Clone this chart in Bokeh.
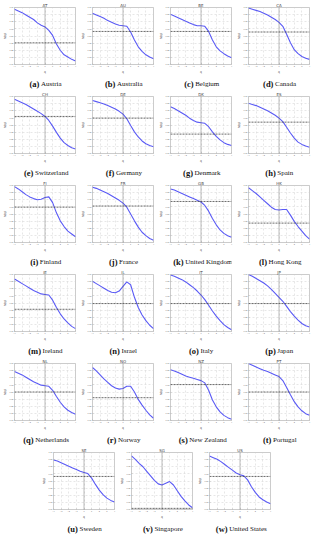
from bokeh.plotting import figure
from bokeh.layouts import row, column, Spacer
from bokeh.models import Span, Range1d, FixedTicker, PrintfTickFormatter
from bokeh.core.properties import value
from bokeh.embed import file_html
from bokeh.resources import INLINE

# q values at which h(q) was read
q = [-4.0, -3.5, -3.0, -2.5, -2.0, -1.5, -1.0, -0.5, 0.0,
     0.5, 1.0, 1.5, 2.0, 2.5, 3.0, 3.5, 4.0]

codes = ["AT", "AU", "BE", "CA", "CH", "DE", "DK", "ES", "FI", "FR", "GB", "HK",
         "IE", "IL", "IT", "JP", "NL", "NO", "NZ", "PT", "SE", "SG", "US"]
names = ["Austria", "Australia", "Belgium", "Canada", "Switzerland", "Germany",
         "Denmark", "Spain", "Finland", "France", "United Kingdom", "Hong Kong",
         "Ireland", "Israel", "Italy", "Japan", "Netherlands", "Norway",
         "New Zealand", "Portugal", "Sweden", "Singapore", "United States"]
letters = list("abcdefghijklmnopqrstuvw")

# level of the dashed reference line (fraction of the axis)
reference = [0.38, 0.58, 0.58, 0.57, 0.65, 0.62, 0.34, 0.55, 0.62, 0.64, 0.72, 0.34,
             0.39, 0.49, 0.49, 0.49, 0.50, 0.40, 0.63, 0.50, 0.58, 0.02, 0.58]

h_AT = [0.97, 0.94, 0.91, 0.87, 0.83, 0.79, 0.73, 0.69, 0.66, 0.60, 0.51, 0.36, 0.25, 0.17, 0.13, 0.09, 0.06]
h_AU = [0.90, 0.87, 0.84, 0.81, 0.77, 0.74, 0.71, 0.69, 0.68, 0.67, 0.57, 0.43, 0.31, 0.23, 0.17, 0.13, 0.10]
h_BE = [0.88, 0.85, 0.82, 0.79, 0.76, 0.73, 0.70, 0.68, 0.68, 0.67, 0.58, 0.43, 0.31, 0.24, 0.19, 0.15, 0.12]
h_CA = [0.99, 0.97, 0.95, 0.93, 0.90, 0.87, 0.83, 0.79, 0.74, 0.67, 0.53, 0.38, 0.26, 0.19, 0.14, 0.11, 0.09]
h_CH = [0.95, 0.92, 0.89, 0.86, 0.82, 0.78, 0.74, 0.70, 0.65, 0.58, 0.48, 0.37, 0.27, 0.19, 0.14, 0.10, 0.08]
h_DE = [0.93, 0.91, 0.89, 0.87, 0.84, 0.81, 0.78, 0.74, 0.69, 0.61, 0.49, 0.38, 0.29, 0.22, 0.17, 0.14, 0.12]
h_DK = [0.82, 0.79, 0.75, 0.71, 0.67, 0.62, 0.58, 0.55, 0.54, 0.53, 0.47, 0.38, 0.30, 0.24, 0.19, 0.16, 0.14]
h_ES = [0.88, 0.86, 0.84, 0.81, 0.78, 0.75, 0.71, 0.67, 0.62, 0.56, 0.46, 0.36, 0.27, 0.20, 0.16, 0.13, 0.11]
h_FI = [0.98, 0.94, 0.89, 0.84, 0.80, 0.77, 0.75, 0.76, 0.79, 0.80, 0.70, 0.52, 0.38, 0.28, 0.20, 0.15, 0.10]
h_FR = [0.97, 0.95, 0.92, 0.89, 0.86, 0.82, 0.78, 0.74, 0.69, 0.62, 0.50, 0.38, 0.27, 0.18, 0.12, 0.07, 0.04]
h_GB = [0.94, 0.92, 0.89, 0.86, 0.83, 0.80, 0.77, 0.74, 0.71, 0.65, 0.55, 0.42, 0.31, 0.22, 0.16, 0.12, 0.09]
h_HK = [0.96, 0.91, 0.86, 0.80, 0.74, 0.68, 0.62, 0.58, 0.57, 0.58, 0.58, 0.48, 0.37, 0.28, 0.20, 0.12, 0.06]
h_IE = [0.92, 0.88, 0.84, 0.80, 0.76, 0.72, 0.69, 0.66, 0.65, 0.64, 0.55, 0.42, 0.31, 0.22, 0.15, 0.09, 0.05]
h_IL = [0.88, 0.84, 0.80, 0.76, 0.72, 0.69, 0.68, 0.71, 0.79, 0.87, 0.82, 0.60, 0.42, 0.29, 0.19, 0.11, 0.05]
h_IT = [0.99, 0.97, 0.94, 0.91, 0.87, 0.82, 0.77, 0.71, 0.64, 0.56, 0.46, 0.36, 0.27, 0.19, 0.12, 0.07, 0.03]
h_JP = [1.00, 0.97, 0.93, 0.89, 0.85, 0.80, 0.74, 0.67, 0.60, 0.53, 0.44, 0.35, 0.27, 0.20, 0.14, 0.10, 0.08]
h_NL = [0.86, 0.83, 0.80, 0.76, 0.72, 0.68, 0.65, 0.62, 0.61, 0.60, 0.53, 0.42, 0.32, 0.24, 0.18, 0.14, 0.11]
h_NO = [0.93, 0.87, 0.80, 0.73, 0.67, 0.61, 0.57, 0.55, 0.56, 0.60, 0.60, 0.50, 0.37, 0.27, 0.18, 0.10, 0.04]
h_NZ = [0.89, 0.87, 0.84, 0.81, 0.78, 0.76, 0.74, 0.72, 0.70, 0.66, 0.53, 0.36, 0.24, 0.15, 0.09, 0.05, 0.02]
h_PT = [1.00, 0.97, 0.94, 0.91, 0.88, 0.86, 0.83, 0.80, 0.77, 0.70, 0.58, 0.45, 0.33, 0.24, 0.17, 0.12, 0.09]
h_SE = [0.87, 0.85, 0.82, 0.79, 0.76, 0.73, 0.70, 0.67, 0.65, 0.63, 0.55, 0.44, 0.34, 0.26, 0.20, 0.16, 0.13]
h_SG = [0.94, 0.88, 0.81, 0.75, 0.67, 0.59, 0.51, 0.45, 0.43, 0.46, 0.49, 0.43, 0.33, 0.23, 0.15, 0.08, 0.03]
h_US = [0.94, 0.91, 0.88, 0.84, 0.79, 0.74, 0.69, 0.64, 0.61, 0.59, 0.52, 0.40, 0.30, 0.22, 0.17, 0.13, 0.10]

series = [h_AT, h_AU, h_BE, h_CA, h_CH, h_DE, h_DK, h_ES, h_FI, h_FR, h_GB, h_HK,
          h_IE, h_IL, h_IT, h_JP, h_NL, h_NO, h_NZ, h_PT, h_SE, h_SG, h_US]

x_ticks = [-4, -3, -2, -1, 0, 1, 2, 3, 4]
y_ticks = [0, 0.125, 0.25, 0.375, 0.5, 0.625, 0.75, 0.875, 1.0]

PW, FH, CH = 78, 75, 14
SANS = "DejaVu Sans"
SERIF = "Liberation Serif"
TAG_SIZE = 8.5
NAME_SIZE = 7.0
K = 1.15   # observed rendering width relative to the metric table
GAP = 2.0

# Times-compatible advance widths (per 1000 em) used to centre the two-style captions
REG_W = {'a': 444, 'b': 500, 'c': 444, 'd': 500, 'e': 444, 'f': 333, 'g': 500,
         'h': 500, 'i': 278, 'j': 278, 'k': 500, 'l': 278, 'm': 778, 'n': 500, 'o': 500,
         'p': 500, 'q': 500, 'r': 333, 's': 389, 't': 278, 'u': 500, 'v': 500, 'w': 722,
         'x': 500, 'y': 500, 'z': 444, ' ': 250, 'A': 722, 'B': 667, 'C': 667, 'D': 722,
         'F': 556, 'G': 722, 'H': 722, 'I': 333, 'J': 389, 'K': 722, 'N': 722, 'P': 556,
         'S': 556, 'U': 722}
BOLD_W = {'(': 333, ')': 333, 'a': 500, 'b': 556, 'c': 444, 'd': 556, 'e': 444, 'f': 333,
          'g': 500, 'h': 556, 'i': 278, 'j': 333, 'k': 556, 'l': 278, 'm': 833, 'n': 556,
          'o': 500, 'p': 556, 'q': 556, 'r': 444, 's': 389, 't': 333, 'u': 556, 'v': 500,
          'w': 722}


def text_width(s, table, size):
    return K * sum(table.get(ch, 500) for ch in s) * size / 1000.0


def caption(i):
    c = figure(width=PW, height=CH, output_backend="svg", toolbar_location=None,
               x_range=Range1d(0, PW), y_range=Range1d(0, CH),
               x_axis_type=None, y_axis_type=None,
               min_border_left=0, min_border_right=0, min_border_top=0,
               min_border_bottom=0)
    c.grid.visible = False
    c.outline_line_color = None
    tag = f"({letters[i]})"
    name = names[i]
    wb = text_width(tag, BOLD_W, TAG_SIZE)
    wn = text_width(name, REG_W, NAME_SIZE)
    x_tag_end = (PW - wb - GAP - wn) / 2.0 + wb
    base = 6
    c.text(x=[x_tag_end], y=[base], text=[tag], text_font=value(SERIF),
           text_font_style="bold", text_font_size=f"{TAG_SIZE}px",
           text_baseline="alphabetic", text_align="right", text_color="#111111")
    c.text(x=[x_tag_end + GAP], y=[base], text=[name], text_font=value(SERIF),
           text_font_size=f"{NAME_SIZE}px", text_baseline="alphabetic",
           text_align="left", text_color="#111111")
    return c


def panel(i):
    p = figure(width=PW, height=FH, output_backend="svg", toolbar_location=None,
               x_range=Range1d(-4, 4), y_range=Range1d(0, 1),
               min_border_left=2, min_border_right=3, min_border_top=0,
               min_border_bottom=0, title=codes[i])
    p.title.text_font_size = "4px"
    p.title.text_font = SANS
    p.title.text_font_style = "normal"
    p.title.text_line_height = 1.0
    p.title.align = "center"
    p.title.standoff = 0
    p.title.offset = 0
    p.outline_line_color = "#aaaaaa"
    p.outline_line_width = 0.6
    p.background_fill_color = "white"
    p.border_fill_color = "white"
    p.xaxis.ticker = FixedTicker(ticks=x_ticks)
    p.yaxis.ticker = FixedTicker(ticks=y_ticks)
    p.yaxis.formatter = PrintfTickFormatter(format="%.2f")
    p.xaxis.axis_label = "q"
    p.yaxis.axis_label = "h(q)"
    for ax in (p.xaxis, p.yaxis):
        ax.axis_line_color = None
        ax.major_tick_line_color = "#aaaaaa"
        ax.major_tick_line_width = 0.5
        ax.major_tick_in = 1
        ax.major_tick_out = 0
        ax.minor_tick_line_color = None
        ax.major_label_text_font_size = "2px"
        ax.major_label_text_line_height = 1.0
        ax.major_label_text_color = "#666666"
        ax.major_label_standoff = 1
        ax.axis_label_text_font_size = "3px"
        ax.axis_label_text_line_height = 1.0
        ax.axis_label_text_font = SANS
        ax.axis_label_text_font_style = "normal"
        ax.axis_label_standoff = 0
    p.grid.grid_line_color = "#cfcfcf"
    p.grid.grid_line_dash = "2 2"
    p.grid.grid_line_width = 0.5
    p.add_layout(Span(location=0, dimension="height", line_color="#555555",
                      line_dash="1 1", line_width=0.8))
    p.add_layout(Span(location=reference[i], dimension="width", line_color="#444444",
                      line_dash="2 1", line_width=0.8))
    p.line(q, series[i], line_color="#5a5af5", line_width=1.1)
    return column(p, caption(i), spacing=0)


rows = []
for r in range(5):
    rows.append(row(*[panel(4 * r + c) for c in range(4)], spacing=0))
rows.append(row(Spacer(width=39, height=10), *[panel(20 + c) for c in range(3)], spacing=0))
layout = column(*rows, spacing=0)

open("out.html", "w").write(file_html(layout, INLINE))
